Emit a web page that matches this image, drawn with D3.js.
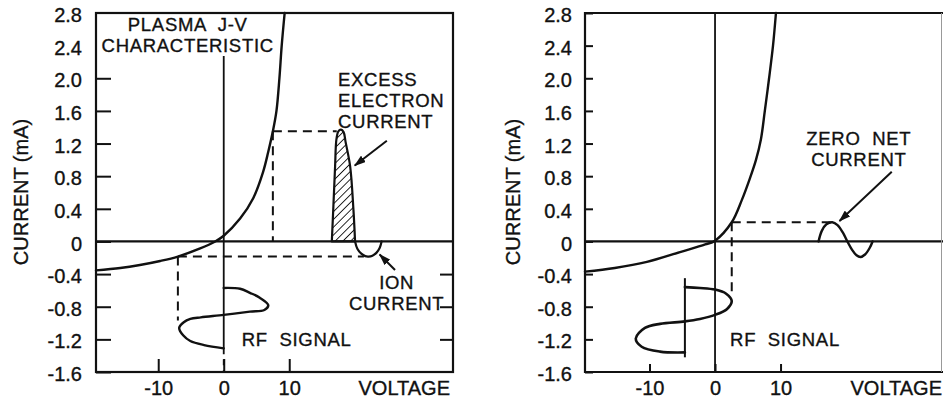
<!DOCTYPE html>
<html>
<head>
<meta charset="utf-8">
<script src="https://cdn.jsdelivr.net/npm/d3@7"></script>
<style>
  html, body { margin: 0; padding: 0; background: #fff; }
  svg { display: block; }
  text { font-family: "Liberation Sans", Arial, Helvetica, sans-serif; fill: #111; font-size: 20px; stroke: #111; stroke-width: 0.35px; }
  text.note { font-size: 18.5px; letter-spacing: 0.7px; }
</style>
</head>
<body>
<svg id="chart" width="943" height="400"></svg>
<script>
// ---- Axis ticks (shared by both panels) ----
const yTicks = [2.8, 2.4, 2.0, 1.6, 1.2, 0.8, 0.4, 0, -0.4, -0.8, -1.2, -1.6];
const yTickLabels = ["2.8", "2.4", "2.0", "1.6", "1.2", "0.8", "0.4", "0", "-0.4", "-0.8", "-1.2", "-1.6"];
const yRightTicks = [-0.4, -0.8, -1.2];
const xTicks = [-10, 0, 10];
const xTickLabels = ["-10", "0", "10"];
const xTitle = "VOLTAGE";
const yTitle = "CURRENT (mA)";

// ---- Left panel: plasma J-V characteristic (volts, mA) ----
const jvLeftV = [-19.5, -15.8, -12.8, -9.7, -7.0, -3.6, -1.3, 0, 2.5, 4.5, 6.0, 6.8, 7.5, 8.05, 8.5, 8.85, 9.3];
const jvLeftI = [-0.355, -0.325, -0.288, -0.239, -0.185, -0.086, 0, 0.07, 0.28, 0.53, 0.85, 1.10, 1.35, 1.6, 2.0, 2.4, 2.8];

// Excess electron current pulse (hatched)
const electronV = [16.5, 16.75, 17.0, 17.2, 17.5, 17.9, 18.3, 18.6, 19.3, 19.8, 20.05];
const electronI = [0, 0.45, 0.92, 1.25, 1.35, 1.37, 1.34, 1.22, 0.92, 0.39, 0];

// Ion current lobe
const ionV = [20.05, 20.4, 21.0, 21.6, 22.1, 22.7, 23.3, 23.8, 24.1];
const ionI = [0, -0.09, -0.15, -0.18, -0.185, -0.175, -0.14, -0.08, 0];

// RF signal drawn about the 0 V axis (time runs downward)
const rfLeftV = [0, 2.5, 4.0, 5.5, 6.8, 6.2, 4.0, 0, -3.5, -5.1, -6.1, -6.8, -6.2, -5.1, -3.0, 0];
const rfLeftI = [-0.57, -0.58, -0.63, -0.69, -0.78, -0.84, -0.86, -0.90, -0.93, -0.95, -0.99, -1.06, -1.15, -1.22, -1.27, -1.31];

// Dashed projection lines [v1, i1, v2, i2]
const guidesLeft = [
  [7.5, 1.35, 17.25, 1.35],
  [7.5, 1.35, 7.5, 0],
  [-7.0, -0.185, 21.4, -0.185],
  [-7.0, -0.185, -7.0, -0.97]
];

// ---- Right panel ----
const jvRightV = [-19.85, -15.3, -10.4, -5.35, -1.5, 0, 2.55, 4.1, 5.35, 6.25, 7.0, 7.6, 8.25, 8.85, 9.3];
const jvRightI = [-0.37, -0.325, -0.25, -0.13, -0.037, 0.01, 0.235, 0.51, 0.78, 1.0, 1.25, 1.6, 2.0, 2.4, 2.8];

// Zero net current waveform
const netV = [15.8, 16.3, 17.0, 17.9, 18.7, 19.5, 20.2, 20.9, 21.6, 22.2, 22.9, 23.6, 24.05];
const netI = [0, 0.13, 0.21, 0.235, 0.2, 0.11, 0, -0.1, -0.17, -0.19, -0.16, -0.08, 0];

// RF signal shifted negative (self-bias)
const rfRightV = [-4.6, -2.3, 0, 1.7, 2.55, 1.8, 0, -2.3, -4.6, -8.4, -10.7, -12.1, -11.2, -8.4, -4.6];
const rfRightI = [-0.56, -0.57, -0.59, -0.64, -0.73, -0.83, -0.90, -0.95, -0.98, -1.01, -1.06, -1.19, -1.29, -1.35, -1.36];
const rfRightAxis = [-4.6, -0.45, -4.6, -1.42];

const guidesRight = [
  [2.55, 0.235, 17.9, 0.235],
  [2.55, 0.235, 2.55, -0.68]
];

// ---- Drawing ----
const svg = d3.select("#chart");
const defs = svg.append("defs");

const hatch = defs.append("pattern")
  .attr("id", "hatch").attr("patternUnits", "userSpaceOnUse")
  .attr("width", 5.5).attr("height", 5.5)
  .attr("patternTransform", "rotate(45)");
hatch.append("line").attr("x1", 0).attr("y1", 0).attr("x2", 0).attr("y2", 5.5)
  .attr("stroke", "#111").attr("stroke-width", 1.8);

defs.append("marker")
  .attr("id", "arrow").attr("viewBox", "0 0 12 8")
  .attr("refX", 11).attr("refY", 4)
  .attr("markerWidth", 12).attr("markerHeight", 8)
  .attr("markerUnits", "userSpaceOnUse")
  .attr("orient", "auto")
  .append("path").attr("d", "M0,0 L12,4 L0,8 Z").attr("fill", "#111");

const ink = "#111";

function makePanel(cfg) {
  const x = d3.scaleLinear().domain(cfg.xDomain).range([cfg.left, cfg.right]);
  const y = d3.scaleLinear().domain([-1.6, 2.8]).range([372, 13]);
  const g = svg.append("g");
  const line = d3.line().x(d => x(d[0])).y(d => y(d[1])).curve(d3.curveCatmullRom.alpha(0.5));

  // y axis: ticks point inward, labels outside
  const yAxis = g.append("g").attr("transform", `translate(${cfg.left},0)`)
    .call(d3.axisLeft(y).tickValues(yTicks)
      .tickFormat((d, i) => yTickLabels[i])
      .tickSize(-cfg.yTickLen).tickPadding(cfg.yPad));
  yAxis.select(".domain").remove();
  yAxis.selectAll("line").attr("stroke", ink).attr("stroke-width", 2);
  yAxis.selectAll("text").attr("font-size", 20).attr("font-family", null).attr("dy", "0.43em").attr("fill", ink);

  // x axis: ticks point upward from the bottom edge
  const xAxis = g.append("g").attr("transform", "translate(0,372)")
    .call(d3.axisBottom(x).tickValues(xTicks)
      .tickFormat((d, i) => xTickLabels[i])
      .tickSize(-cfg.xTickLen).tickPadding(9));
  xAxis.select(".domain").remove();
  xAxis.selectAll("line").attr("stroke", ink).attr("stroke-width", 2);
  xAxis.selectAll("text").attr("font-size", 20).attr("font-family", null).attr("fill", ink);

  g.append("text").attr("x", cfg.right - cfg.xTitleInset).attr("y", 395)
    .attr("text-anchor", "end").text(xTitle);
  g.append("text").attr("transform", `translate(${cfg.yTitleX},192) rotate(-90)`)
    .attr("text-anchor", "middle").text(yTitle);

  return { x, y, g, line };
}

function dashed(p, seg) {
  p.g.append("line")
    .attr("x1", p.x(seg[0])).attr("y1", p.y(seg[1]))
    .attr("x2", p.x(seg[2])).attr("y2", p.y(seg[3]))
    .attr("stroke", ink).attr("stroke-width", 2).attr("stroke-dasharray", "9,6");
}

function curve(p, V, I, w) {
  p.g.append("path").datum(d3.zip(V, I)).attr("d", p.line)
    .attr("fill", "none").attr("stroke", ink).attr("stroke-width", w || 2.4)
    .attr("stroke-linejoin", "round").attr("stroke-linecap", "round");
}

function arrow(p, v1, i1, v2, i2) {
  p.g.append("line")
    .attr("x1", p.x(v1)).attr("y1", p.y(i1)).attr("x2", p.x(v2)).attr("y2", p.y(i2))
    .attr("stroke", ink).attr("stroke-width", 2).attr("marker-end", "url(#arrow)");
}

// Annotation block: first baseline at current i0 (voltage v), further lines 21 px lower.
function label(p, v, i0, lines, anchor) {
  const t = p.g.append("text").attr("class", "note").attr("text-anchor", anchor || "start")
    .attr("xml:space", "preserve").style("white-space", "pre");
  lines.forEach((s, k) => {
    t.append("tspan").attr("x", p.x(v)).attr("y", p.y(i0) + 21 * k).text(s);
  });
}

// ===== Left panel =====
const L = makePanel({ xDomain: [-19.5, 35], left: 96, right: 453, yTickLen: 15, xTickLen: 13, yPad: 14, xTitleInset: 3, yTitleX: 28 });

// right-edge inward ticks
const yr = L.g.append("g").attr("transform", "translate(453,0)")
  .call(d3.axisRight(L.y).tickValues(yRightTicks).tickFormat("").tickSize(-13));
yr.select(".domain").remove();
yr.selectAll("line").attr("stroke", ink).attr("stroke-width", 2);

// zero current line and 0 V axis
L.g.append("line").attr("x1", 96).attr("x2", 453).attr("y1", L.y(0)).attr("y2", L.y(0))
  .attr("stroke", ink).attr("stroke-width", 2.2);
L.g.append("line").attr("x1", L.x(0)).attr("x2", L.x(0)).attr("y1", L.y(2.8)).attr("y2", L.y(-1.31))
  .attr("stroke", ink).attr("stroke-width", 1.8);
L.g.append("line").attr("x1", L.x(0)).attr("x2", L.x(0)).attr("y1", L.y(-1.31)).attr("y2", L.y(-1.6))
  .attr("stroke", ink).attr("stroke-width", 1.8).attr("stroke-dasharray", "6,5");

// title box
L.g.append("rect").attr("x", 97).attr("y", 14).attr("width", 184).attr("height", 42).attr("fill", "#fff");
label(L, -5.5, 2.58, ["PLASMA  J-V", "CHARACTERISTIC"], "middle");

guidesLeft.forEach(s => dashed(L, s));

// hatched electron pulse
L.g.append("path").datum(d3.zip(electronV, electronI))
  .attr("d", d => L.line(d) + "Z")
  .attr("fill", "url(#hatch)").attr("stroke", ink).attr("stroke-width", 2.2)
  .attr("stroke-linejoin", "round");

curve(L, ionV, ionI, 2.2);
curve(L, rfLeftV, rfLeftI, 2.4);
curve(L, jvLeftV, jvLeftI, 2.4);

label(L, 17.45, 1.905, ["EXCESS", "ELECTRON", "CURRENT"]);
arrow(L, 24.9, 1.235, 20.0, 0.93);

label(L, 26.4, -0.58, ["ION", "CURRENT"], "middle");
arrow(L, 26.15, -0.35, 23.8, -0.16);

label(L, 2.75, -1.287, ["RF  SIGNAL"]);

// frame
L.g.append("rect").attr("x", 96).attr("y", 13).attr("width", 357).attr("height", 359)
  .attr("fill", "none").attr("stroke", ink).attr("stroke-width", 2.2);

// ===== Right panel =====
const R = makePanel({ xDomain: [-19.85, 34.8], left: 585, right: 943, yTickLen: 8, xTickLen: 8, yPad: 13, xTitleInset: 1, yTitleX: 520 });

R.g.append("line").attr("x1", 585).attr("x2", 943).attr("y1", R.y(0)).attr("y2", R.y(0))
  .attr("stroke", ink).attr("stroke-width", 2.2);
R.g.append("line").attr("x1", R.x(0)).attr("x2", R.x(0)).attr("y1", R.y(2.8)).attr("y2", R.y(-1.6))
  .attr("stroke", ink).attr("stroke-width", 1.8);

guidesRight.forEach(s => dashed(R, s));

curve(R, netV, netI, 2.4);
R.g.append("line")
  .attr("x1", R.x(rfRightAxis[0])).attr("y1", R.y(rfRightAxis[1]))
  .attr("x2", R.x(rfRightAxis[2])).attr("y2", R.y(rfRightAxis[3]))
  .attr("stroke", ink).attr("stroke-width", 2);
curve(R, rfRightV, rfRightI, 2.6);
curve(R, jvRightV, jvRightI, 2.4);

label(R, 21.95, 1.18, ["ZERO  NET", "CURRENT"], "middle");
arrow(R, 26.98, 0.855, 19.0, 0.25);

label(R, 2.3, -1.28, ["RF  SIGNAL"]);

// frame (right edge runs off the page)
R.g.append("path")
  .attr("d", `M943,13 H585 V372 H943`)
  .attr("fill", "none").attr("stroke", ink).attr("stroke-width", 2.2);
R.g.append("line").attr("x1", 941.5).attr("x2", 941.5).attr("y1", 13).attr("y2", 372)
  .attr("stroke", "#999").attr("stroke-width", 1);
</script>
</body>
</html>
